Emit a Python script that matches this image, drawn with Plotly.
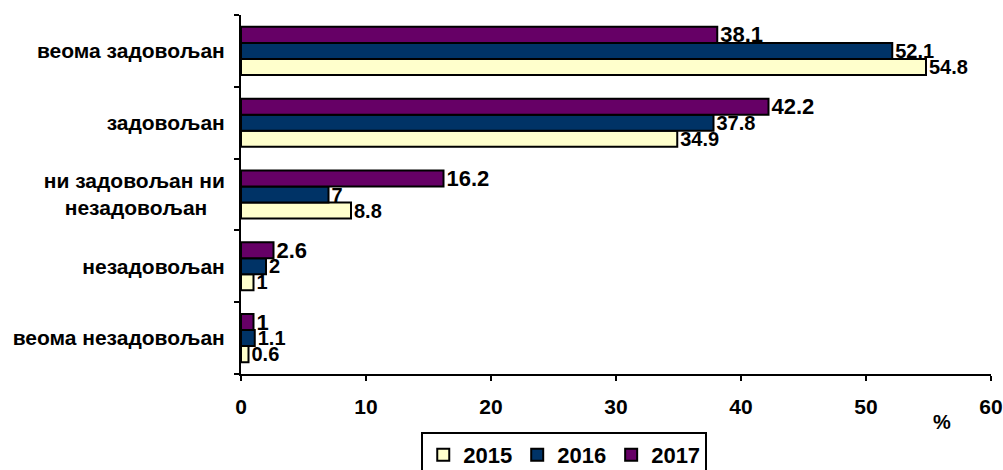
import plotly.graph_objects as go

# Categories listed bottom-to-top so the first one lands at the base of the axis
categories = [
    "веома незадовољан",
    "незадовољан",
    "ни задовољан ни<br>незадовољан\u00a0\u00a0\u00a0",
    "задовољан",
    "веома задовољан",
]
years = ["2015", "2016", "2017"]
values_2015 = [0.6, 1, 8.8, 34.9, 54.8]
values_2016 = [1.1, 2, 7, 37.8, 52.1]
values_2017 = [1, 2.6, 16.2, 42.2, 38.1]
x_ticks = [0, 10, 20, 30, 40, 50, 60]

series = [values_2015, values_2016, values_2017]
colors = ["#FFFFCC", "#003366", "#660066"]
label_sizes = [20, 20, 22]

FONT = "Liberation Sans, Arial, sans-serif"

fig = go.Figure()
for year, vals, color, fsize in zip(years, series, colors, label_sizes):
    fig.add_trace(go.Bar(
        y=categories,
        x=vals,
        name=year,
        orientation="h",
        marker=dict(color=color, line=dict(color="black", width=2)),
        text=[f"{v:g}" for v in vals],
        textposition="outside",
        constraintext="none",
        cliponaxis=False,
        textfont=dict(family=FONT, size=fsize, color="black", weight="bold"),
    ))

fig.update_layout(
    width=1003,
    height=470,
    margin=dict(l=241, r=12, t=15, b=96, autoexpand=False),
    paper_bgcolor="white",
    plot_bgcolor="white",
    barmode="group",
    bargap=0.33,
    bargroupgap=0,
    font=dict(family=FONT, color="black"),
    legend=dict(
        orientation="h",
        traceorder="normal",
        x=0.431,
        xanchor="center",
        y=-0.1616,
        yanchor="top",
        bordercolor="black",
        borderwidth=2,
        font=dict(family=FONT, size=22, color="black", weight="bold"),
        itemwidth=30,
        tracegroupgap=0,
    ),
    xaxis=dict(
        range=[0, 60],
        tickvals=x_ticks,
        ticktext=[str(t) for t in x_ticks],
        showgrid=False,
        zeroline=False,
        showline=True,
        linecolor="black",
        linewidth=2,
        ticks="outside",
        ticklen=5,
        tickwidth=2,
        tickcolor="black",
        ticklabelstandoff=8,
        automargin=False,
        tickfont=dict(family=FONT, size=21, color="black", weight="bold"),
    ),
    yaxis=dict(
        showgrid=False,
        zeroline=False,
        showline=True,
        linecolor="black",
        linewidth=2,
        ticks="outside",
        tickson="boundaries",
        ticklen=5,
        tickwidth=2,
        tickcolor="black",
        ticklabelstandoff=10,
        automargin=False,
        tickfont=dict(family=FONT, size=21, color="black", weight="bold"),
    ),
    annotations=[dict(
        text="%",
        xref="paper", yref="paper",
        x=(942 - 241) / 750, y=(374 - 422) / 359,
        xanchor="center", yanchor="middle",
        showarrow=False,
        font=dict(family=FONT, size=20, color="black", weight="bold"),
    )],
)

fig.write_html("out.html")
